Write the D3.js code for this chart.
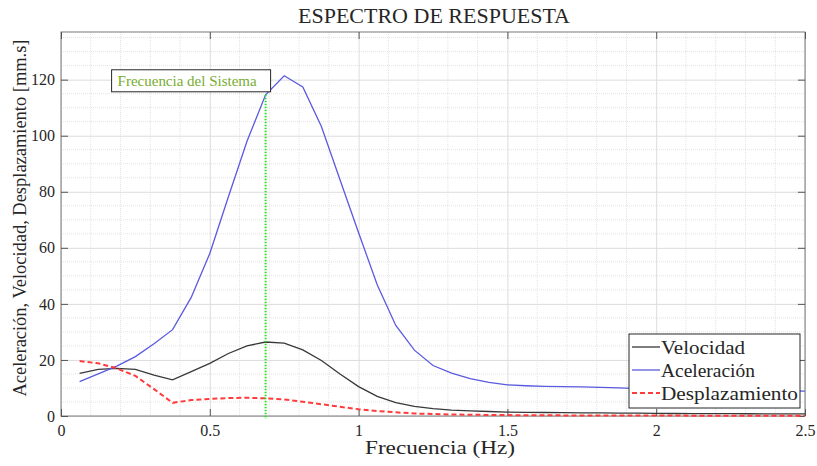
<!DOCTYPE html>
<html>
<head>
<meta charset="utf-8">
<title>Espectro de respuesta</title>
<script src="https://cdn.jsdelivr.net/npm/d3@7"></script>
<style>
  body { margin: 0; background: #fff; }
  svg text { font-family: "Liberation Serif", "DejaVu Serif", serif !important; fill: #262626; }
</style>
</head>
<body>
<svg width="817" height="466" font-family="Liberation Serif"></svg>
<script>
// frequencies (Hz), step 1/16
var freq = [0.0625, 0.125, 0.1875, 0.25, 0.3125, 0.375, 0.4375, 0.5, 0.5625, 0.625,
  0.6875, 0.75, 0.8125, 0.875, 0.9375, 1.0, 1.0625, 1.125, 1.1875, 1.25,
  1.3125, 1.375, 1.4375, 1.5, 1.5625, 1.625, 1.6875, 1.75, 1.8125, 1.875,
  1.9375, 2.0, 2.0625, 2.125, 2.1875, 2.25, 2.3125, 2.375, 2.4375, 2.5];

var velocidad = [15.2, 16.6, 17.0, 16.6, 14.6, 12.9, 15.8, 18.8, 22.3, 25.0,
  26.4, 26.0, 23.6, 19.8, 15.0, 10.5, 7.0, 4.8, 3.4, 2.6,
  2.1, 1.8, 1.6, 1.4, 1.3, 1.25, 1.2, 1.15, 1.1, 1.05,
  1.0, 0.95, 0.9, 0.88, 0.85, 0.82, 0.8, 0.78, 0.76, 0.75];

var aceleracion = [12.3, 15.0, 17.8, 21.2, 25.8, 30.8, 42.3, 58.0, 78.2, 98.0,
  114.6, 121.4, 117.4, 103.3, 84.3, 65.4, 46.8, 32.3, 23.5, 18.0,
  15.3, 13.3, 12.0, 11.1, 10.8, 10.6, 10.5, 10.4, 10.2, 10.0,
  9.8, 9.6, 9.5, 9.4, 9.3, 9.2, 9.1, 9.0, 9.0, 8.9];

var desplazamiento = [19.6, 18.8, 17.0, 14.3, 9.6, 4.7, 5.7, 6.1, 6.4, 6.5,
  6.3, 5.9, 5.1, 4.2, 3.3, 2.4, 1.8, 1.3, 0.9, 0.7,
  0.55, 0.45, 0.38, 0.32, 0.28, 0.25, 0.22, 0.2, 0.18, 0.17,
  0.16, 0.15, 0.14, 0.13, 0.12, 0.12, 0.11, 0.11, 0.1, 0.1];

var xTicks = [0, 0.5, 1, 1.5, 2, 2.5];
var yTicks = [0, 20, 40, 60, 80, 100, 120];
var fSistema = 0.6875;

var serif = "Liberation Serif";

var svg = d3.select("svg"),
  margin = { top: 32, right: 12, bottom: 50, left: 61 },
  width = +svg.attr("width") - margin.left - margin.right,
  height = +svg.attr("height") - margin.top - margin.bottom,
  g = svg.append("g").attr("transform", "translate(" + margin.left + "," + margin.top + ")");

var x = d3.scaleLinear().domain([0, 2.5]).range([0, width]);
var y = d3.scaleLinear().domain([0, 137]).range([height, 0]);

// minor grid
g.append("g")
  .selectAll("line")
  .data(d3.range(1, 25).map(function (i) { return i / 10; }).filter(function (d) { return Math.round(d * 10) % 5 != 0; }))
  .enter().append("line")
  .attr("x1", function (d) { return x(d); }).attr("x2", function (d) { return x(d); })
  .attr("y1", 0).attr("y2", height)
  .attr("stroke", "#e3e3e3").attr("stroke-dasharray", "1,1");

g.append("g")
  .selectAll("line")
  .data(d3.range(5, 137, 5).filter(function (d) { return d % 20 != 0; }))
  .enter().append("line")
  .attr("y1", function (d) { return y(d); }).attr("y2", function (d) { return y(d); })
  .attr("x1", 0).attr("x2", width)
  .attr("stroke", "#e3e3e3").attr("stroke-dasharray", "1,1");

// major grid
g.append("g")
  .call(d3.axisBottom(x).tickValues(xTicks).tickSize(height).tickFormat(""))
  .call(function (s) { s.select(".domain").remove(); s.selectAll("line").attr("stroke", "#dcdcdc"); });

g.append("g")
  .call(d3.axisLeft(y).tickValues(yTicks).tickSize(-width).tickFormat(""))
  .call(function (s) { s.select(".domain").remove(); s.selectAll("line").attr("stroke", "#dcdcdc"); });

// box + ticks
g.append("rect").attr("width", width).attr("height", height)
  .attr("fill", "none").attr("stroke", "#7a7a7a").attr("stroke-width", 1);

function ticks(axis, tr) {
  g.append("g").attr("transform", tr).call(axis)
    .attr("font-family", serif)
    .call(function (s) {
      s.select(".domain").remove();
      s.selectAll("line").attr("stroke", "#555");
      s.selectAll("text").attr("font-size", 16).attr("fill", "#262626")
        .attr("font-family", serif);
    });
}
ticks(d3.axisBottom(x).tickValues(xTicks).tickSize(-7).tickPadding(9).tickFormat(d3.format("")), "translate(0," + height + ")");
ticks(d3.axisTop(x).tickValues(xTicks).tickSize(-7).tickFormat(""), "translate(0,0)");
ticks(d3.axisLeft(y).tickValues(yTicks).tickSize(-7).tickPadding(6), "translate(0,0)");
ticks(d3.axisRight(y).tickValues(yTicks).tickSize(-7).tickFormat(""), "translate(" + width + ",0)");

// curves
var data = freq.map(function (f, i) {
  return { f: f, v: velocidad[i], a: aceleracion[i], d: desplazamiento[i] };
});

function line(key) {
  return d3.line().x(function (d) { return x(d.f); }).y(function (d) { return y(d[key]); });
}

var series = [
  { key: "v", name: "Velocidad", color: "#383838", dash: null, w: 1.3, len: 84 },
  { key: "a", name: "Aceleración", color: "#5a5ae0", dash: null, w: 1.3, len: 94 },
  { key: "d", name: "Desplazamiento", color: "#ff3b3b", dash: "5,3", w: 2, len: 137 }
];

series.forEach(function (s) {
  g.append("path").datum(data)
    .attr("fill", "none")
    .attr("stroke", s.color)
    .attr("stroke-width", s.w)
    .attr("stroke-dasharray", s.dash)
    .attr("d", line(s.key));
});

// system frequency marker
var aSis = aceleracion[freq.indexOf(fSistema)];
g.append("line")
  .attr("x1", x(fSistema)).attr("x2", x(fSistema))
  .attr("y1", y(aSis)).attr("y2", height + 3)
  .attr("stroke", "#22e022").attr("stroke-width", 2).attr("stroke-dasharray", "1.5,1.5");

var label = g.append("g")
  .attr("transform", "translate(" + (x(fSistema) + 5) + "," + (y(aSis) - 3) + ")");
label.append("rect")
  .attr("x", -159).attr("y", -22).attr("width", 159).attr("height", 22)
  .attr("fill", "#fff").attr("stroke", "#262626").attr("stroke-width", 1);
label.append("text")
  .attr("x", -153).attr("y", -6)
  .attr("font-family", serif).attr("font-size", 14)
  .attr("textLength", 139).attr("lengthAdjust", "spacingAndGlyphs")
  .style("fill", "#77AC30")
  .text("Frecuencia del Sistema");

// legend
var legend = g.append("g").attr("transform", "translate(" + (629 - margin.left) + "," + (334 - margin.top) + ")");
legend.append("rect").attr("width", 171).attr("height", 74)
  .attr("fill", "#fff").attr("stroke", "#262626").attr("stroke-width", 1);

var item = legend.selectAll(".item").data(series).enter().append("g")
  .attr("transform", function (d, i) { return "translate(0," + (13 + i * 23) + ")"; });
item.append("line").attr("x1", 3).attr("x2", 31)
  .attr("stroke", function (d) { return d.color; })
  .attr("stroke-width", function (d) { return d.w; })
  .attr("stroke-dasharray", function (d) { return d.dash; });
item.append("text").attr("x", 32).attr("dy", "0.35em")
  .attr("font-family", serif).attr("font-size", 19)
  .attr("textLength", function (d) { return d.len; }).attr("lengthAdjust", "spacingAndGlyphs")
  .text(function (d) { return d.name; });

// titles
svg.append("text")
  .attr("x", 434).attr("y", 23)
  .attr("text-anchor", "middle")
  .attr("font-family", serif).attr("font-size", 21)
  .attr("textLength", 272).attr("lengthAdjust", "spacingAndGlyphs")
  .text("ESPECTRO DE RESPUESTA");

svg.append("text")
  .attr("x", 440).attr("y", 454)
  .attr("text-anchor", "middle")
  .attr("font-family", serif).attr("font-size", 19)
  .attr("textLength", 150).attr("lengthAdjust", "spacingAndGlyphs")
  .text("Frecuencia (Hz)");

svg.append("text")
  .attr("transform", "translate(26,218) rotate(-90)")
  .attr("text-anchor", "middle")
  .attr("font-family", serif).attr("font-size", 18)
  .attr("textLength", 357).attr("lengthAdjust", "spacingAndGlyphs")
  .text("Aceleración, Velocidad, Desplazamiento [mm.s]");
</script>
</body>
</html>
